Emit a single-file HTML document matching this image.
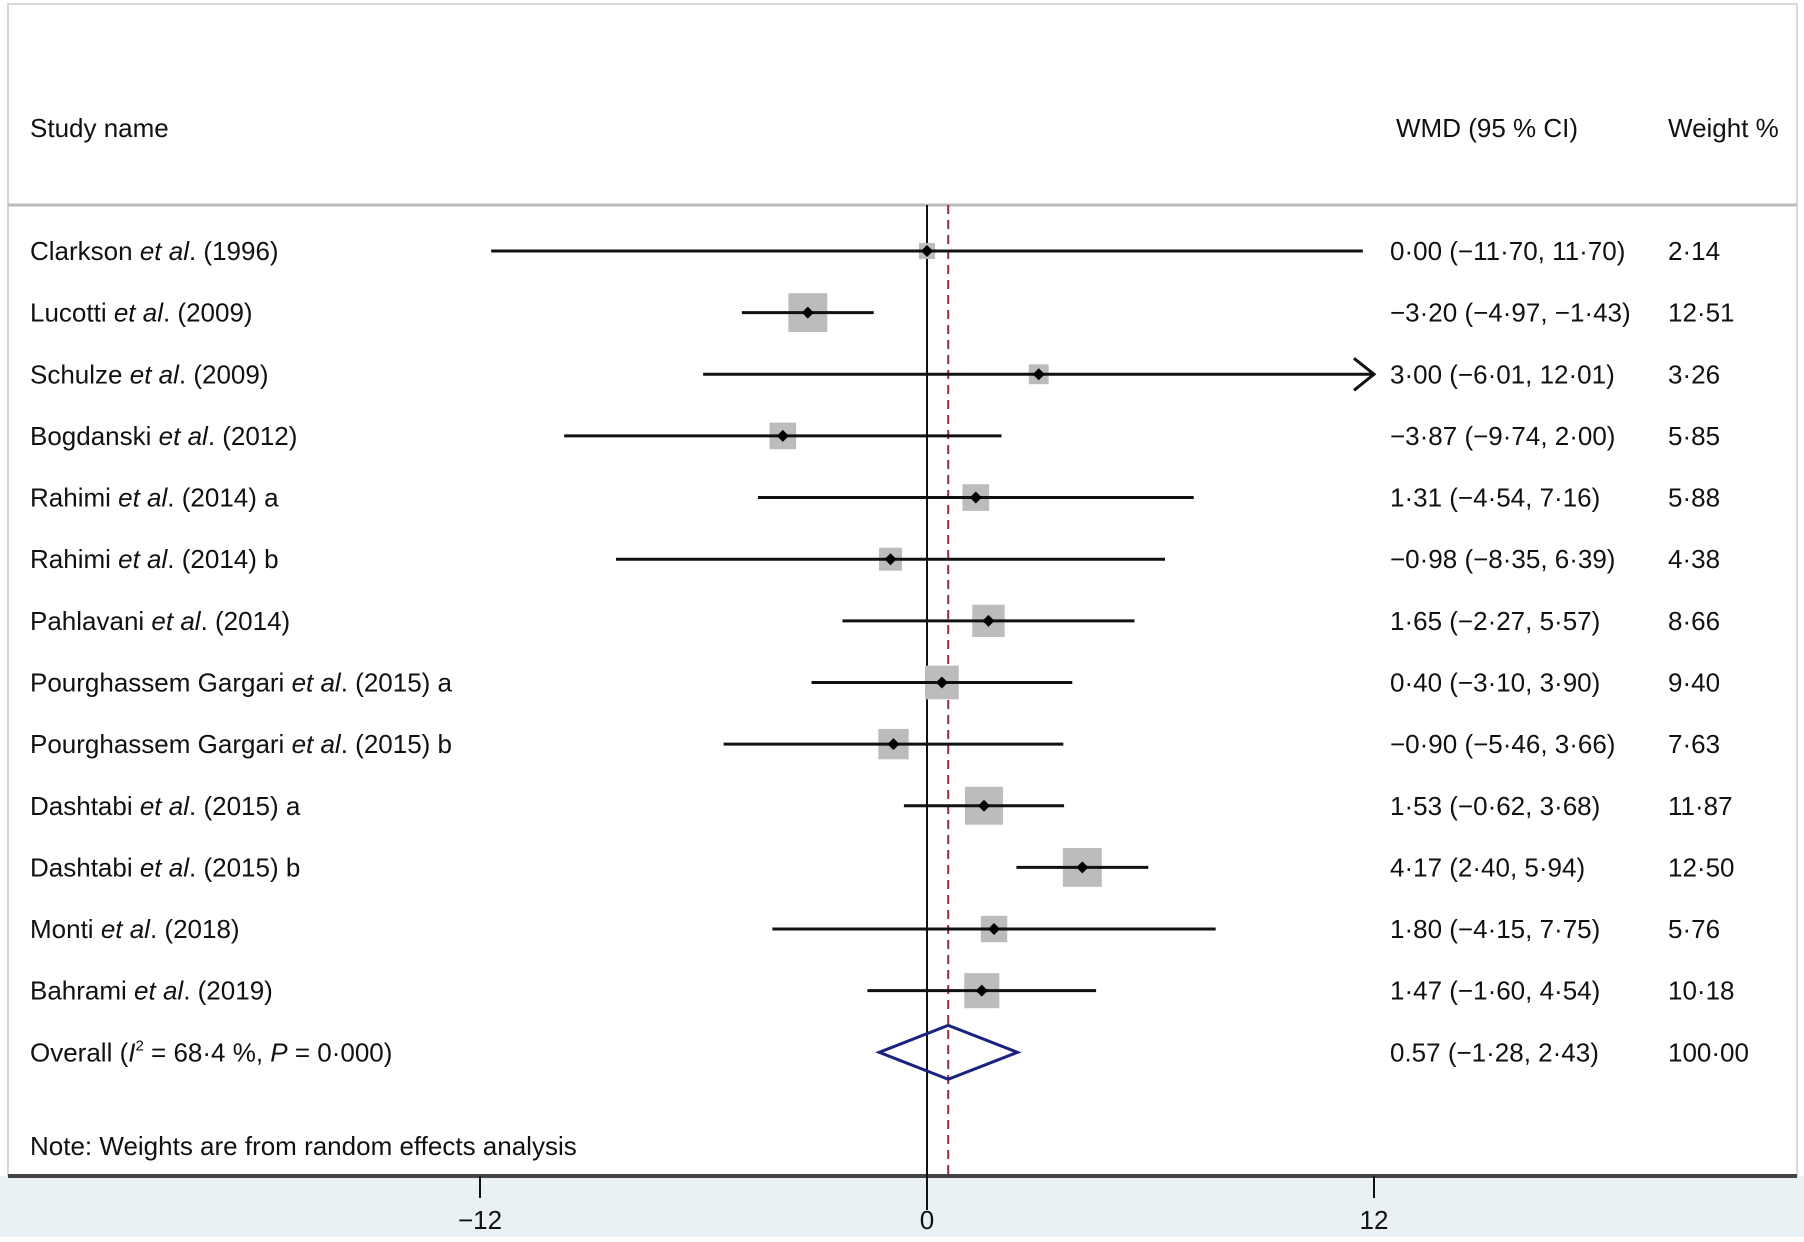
<!DOCTYPE html>
<html><head><meta charset="utf-8"><style>
body{margin:0;background:#fff;}
svg text{font-family:"Liberation Sans",Arial,sans-serif;font-size:26px;fill:#111;}
</style></head><body>
<svg id="chart" width="1804" height="1237" xmlns="http://www.w3.org/2000/svg">
<rect x="0" y="1176" width="1804" height="61" fill="#e9f1f4"/>
<rect x="8" y="4" width="1789" height="1172" fill="#fff" stroke="#d8d8d8" stroke-width="2"/>
<line x1="8" y1="205" x2="1797" y2="205" stroke="#bbb" stroke-width="3"/>
<line x1="8" y1="1176" x2="1797" y2="1176" stroke="#444" stroke-width="4"/>
<text x="30" y="137">Study name</text>
<text x="1396" y="137">WMD (95 % CI)</text>
<text x="1668" y="137">Weight %</text>
<text x="30" y="1155">Note: Weights are from random effects analysis</text>
<g id="g"></g>
</svg>
<script>
const studies=["Clarkson|(1996)","Lucotti|(2009)","Schulze|(2009)","Bogdanski|(2012)","Rahimi|(2014) a","Rahimi|(2014) b","Pahlavani|(2014)","Pourghassem Gargari|(2015) a","Pourghassem Gargari|(2015) b","Dashtabi|(2015) a","Dashtabi|(2015) b","Monti|(2018)","Bahrami|(2019)"];
const est=[0.00,-3.20,3.00,-3.87,1.31,-0.98,1.65,0.40,-0.90,1.53,4.17,1.80,1.47];
const lo=[-11.70,-4.97,-6.01,-9.74,-4.54,-8.35,-2.27,-3.10,-5.46,-0.62,2.40,-4.15,-1.60];
const hi=[11.70,-1.43,12.01,2.00,7.16,6.39,5.57,3.90,3.66,3.68,5.94,7.75,4.54];
const weights=[2.14,12.51,3.26,5.85,5.88,4.38,8.66,9.40,7.63,11.87,12.50,5.76,10.18];
const wmdLabels=["0·00 (−11·70, 11·70)","−3·20 (−4·97, −1·43)","3·00 (−6·01, 12·01)","−3·87 (−9·74, 2·00)","1·31 (−4·54, 7·16)","−0·98 (−8·35, 6·39)","1·65 (−2·27, 5·57)","0·40 (−3·10, 3·90)","−0·90 (−5·46, 3·66)","1·53 (−0·62, 3·68)","4·17 (2·40, 5·94)","1·80 (−4·15, 7·75)","1·47 (−1·60, 4·54)"];
const weightLabels=["2·14","12·51","3·26","5·85","5·88","4·38","8·66","9·40","7·63","11·87","12·50","5·76","10·18"];
const overall=[0.57,-1.28,2.43];
const ticks=[-12,0,12];
const tickLabels=["−12","0","12"];
const NS="http://www.w3.org/2000/svg";
const g=document.getElementById('g');
const X=v=>927+v*37.25;
const Y=i=>251+i*61.64;
function mk(t,a){const e=document.createElementNS(NS,t);for(const k in a)e.setAttribute(k,a[k]);g.appendChild(e);return e;}
let e;
e=mk('line',{x1:X(0),y1:205,x2:X(0),y2:1210,stroke:'#111','stroke-width':2});


e=mk('line',{x1:X(overall[0]),y1:205,x2:X(overall[0]),y2:1176,stroke:'#9a2a3a','stroke-width':2,'stroke-dasharray':'9,6'});


ticks.forEach((t,i)=>{
 e=mk('line',{x1:X(t),y1:1176,x2:X(t),y2:1198,stroke:'#111','stroke-width':2});
 
 
 e=mk('text',{x:X(t),y:1229,'text-anchor':'middle'});e.textContent=tickLabels[i];
 
 
});
studies.forEach((s,i)=>{
 const y=Y(i);const [n,r]=s.split('|');
 e=mk('text',{x:30,y:y+9});
 e.innerHTML=n+' <tspan font-style="italic">et al</tspan>. '+r;
 
 
 const side=Math.sqrt(weights[i])*11;
 e=mk('rect',{x:X(est[i])-side/2,y:y-side/2,width:side,height:side,fill:'#bcbcbc'});
 
 
 const h=Math.min(hi[i],12);
 e=mk('line',{x1:X(lo[i]),y1:y,x2:X(h),y2:y,stroke:'#111','stroke-width':3});
 
 
 if(hi[i]>12){
  e=mk('polyline',{points:`${X(12)-20},${y-16} ${X(12)},${y} ${X(12)-20},${y+16}`,fill:'none',stroke:'#111','stroke-width':3});
  
  
 }
 e=mk('path',{d:`M${X(est[i])-6},${y} L${X(est[i])},${y-6} L${X(est[i])+6},${y} L${X(est[i])},${y+6}Z`,fill:'#000'});
 
 
 e=mk('text',{x:1390,y:y+9});e.textContent=wmdLabels[i];
 
 
 e=mk('text',{x:1668,y:y+9});e.textContent=weightLabels[i];
 
 
});
const oy=Y(13);
e=mk('text',{x:30,y:oy+9});
e.innerHTML='Overall  (<tspan font-style="italic">I</tspan><tspan font-size="15" dy="-11">2</tspan><tspan dy="11"> = 68·4 %, </tspan><tspan font-style="italic">P</tspan> = 0·000)';


e=mk('path',{d:`M${X(overall[1])},${oy} L${X(overall[0])},${oy-27} L${X(overall[2])},${oy} L${X(overall[0])},${oy+27}Z`,fill:'none',stroke:'#1a2380','stroke-width':3});


e=mk('text',{x:1390,y:oy+9});e.textContent='0.57 (−1·28, 2·43)';


e=mk('text',{x:1668,y:oy+9});e.textContent='100·00';


</script>
</body></html>
